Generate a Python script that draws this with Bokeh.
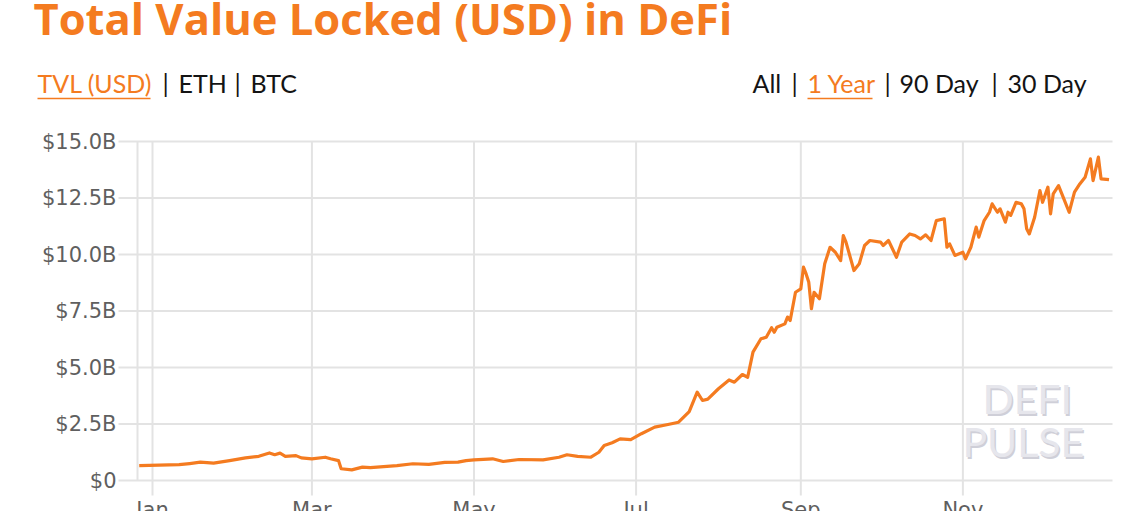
import pandas as pd
from bokeh.plotting import figure
from bokeh.models import Range1d, ColumnDataSource
from bokeh.core.properties import value
from bokeh.embed import file_html
from bokeh.resources import INLINE

# ---------------- data ----------------
title_text = "Total Value Locked (USD) in DeFi"
left_tabs = ["TVL (USD)", "|", "ETH", "|", "BTC"]
right_tabs = ["All", "|", "1 Year", "|", "90 Day", "|", "30 Day"]
active_tabs = ["TVL (USD)", "1 Year"]
y_ticks = [0, 2.5, 5, 7.5, 10, 12.5, 15]
y_tick_labels = ["$0", "$2.5B", "$5.0B", "$7.5B", "$10.0B", "$12.5B", "$15.0B"]
month_dates = ["2020-01-01", "2020-03-01", "2020-05-01", "2020-07-01", "2020-09-01", "2020-11-01"]
month_labels = ["Jan", "Mar", "May", "Jul", "Sep", "Nov"]
watermark = ["DEFI", "PULSE"]

tvl_dates = [
    "2019-12-27", "2020-01-11", "2020-01-15", "2020-01-19", "2020-01-24", "2020-01-30",
    "2020-02-05", "2020-02-10", "2020-02-14", "2020-02-16", "2020-02-18", "2020-02-20",
    "2020-02-24", "2020-02-26", "2020-03-01", "2020-03-06", "2020-03-08", "2020-03-11",
    "2020-03-12", "2020-03-16", "2020-03-20", "2020-03-23", "2020-04-02", "2020-04-08",
    "2020-04-14", "2020-04-20", "2020-04-25", "2020-04-28", "2020-05-01", "2020-05-08",
    "2020-05-12", "2020-05-18", "2020-05-27", "2020-06-02", "2020-06-05", "2020-06-09",
    "2020-06-14", "2020-06-17", "2020-06-19", "2020-06-22", "2020-06-25", "2020-06-29",
    "2020-07-03", "2020-07-08", "2020-07-13", "2020-07-17", "2020-07-21", "2020-07-24",
    "2020-07-26", "2020-07-28", "2020-08-01", "2020-08-05", "2020-08-07", "2020-08-10",
    "2020-08-12", "2020-08-14", "2020-08-17", "2020-08-19", "2020-08-21", "2020-08-22",
    "2020-08-23", "2020-08-26", "2020-08-27", "2020-08-28", "2020-08-30", "2020-09-01",
    "2020-09-02", "2020-09-03", "2020-09-04", "2020-09-05", "2020-09-06", "2020-09-08",
    "2020-09-10", "2020-09-12", "2020-09-14", "2020-09-16", "2020-09-17", "2020-09-18",
    "2020-09-21", "2020-09-23", "2020-09-25", "2020-09-27", "2020-10-01", "2020-10-02",
    "2020-10-04", "2020-10-07", "2020-10-09", "2020-10-12", "2020-10-14", "2020-10-16",
    "2020-10-18", "2020-10-20", "2020-10-22", "2020-10-25", "2020-10-26", "2020-10-27",
    "2020-10-29", "2020-11-01", "2020-11-02", "2020-11-04", "2020-11-06", "2020-11-07",
    "2020-11-09", "2020-11-11", "2020-11-12", "2020-11-14", "2020-11-15", "2020-11-17",
    "2020-11-18", "2020-11-19", "2020-11-21", "2020-11-23", "2020-11-24", "2020-11-25",
    "2020-11-26", "2020-11-28", "2020-11-30", "2020-12-01", "2020-12-03", "2020-12-04",
    "2020-12-05", "2020-12-07", "2020-12-09", "2020-12-11", "2020-12-13", "2020-12-15",
    "2020-12-17", "2020-12-19", "2020-12-20", "2020-12-22", "2020-12-23", "2020-12-26",
]
tvl_usd_billion = [
    0.66, 0.70, 0.75, 0.81, 0.77, 0.88,
    1.00, 1.07, 1.22, 1.14, 1.21, 1.07,
    1.10, 1.00, 0.96, 1.03, 0.96, 0.88,
    0.52, 0.47, 0.59, 0.57, 0.66, 0.74,
    0.71, 0.80, 0.81, 0.88, 0.91, 0.96,
    0.84, 0.93, 0.91, 1.03, 1.14, 1.07,
    1.03, 1.25, 1.55, 1.67, 1.84, 1.81,
    2.07, 2.36, 2.48, 2.58, 3.05, 3.91,
    3.54, 3.60, 4.06, 4.45, 4.35, 4.69,
    4.57, 5.68, 6.27, 6.34, 6.76, 6.56,
    6.78, 6.93, 7.23, 7.08, 8.33, 8.48,
    9.44, 9.14, 8.77, 7.60, 8.33, 8.04,
    9.59, 10.32, 10.10, 9.73, 10.84, 10.55,
    9.29, 9.59, 10.40, 10.62, 10.55, 10.40,
    10.62, 9.88, 10.55, 10.91, 10.84, 10.69,
    10.87, 10.62, 11.50, 11.58, 10.32, 10.47,
    9.96, 10.10, 9.81, 10.32, 11.21, 10.77,
    11.50, 11.87, 12.24, 11.87, 12.02, 11.43,
    11.87, 11.73, 12.31, 12.24, 12.02, 11.14,
    10.91, 11.65, 12.83, 12.31, 12.98, 11.80,
    12.68, 13.05, 12.46, 11.87, 12.76, 13.12,
    13.42, 14.23, 13.27, 14.31, 13.35, 13.31,
]

# ---------------- layout / style ----------------
ORANGE = "#f47b20"
GRID = "#e3e3e3"
AXIS_TEXT = "#5f5f5f"
TAB_TEXT = "#141414"
W, H = 1136, 511
D0 = pd.Timestamp("2020-01-01")
JAN1_X, PX_PER_DAY = 152, 2.657      # horizontal placement of the time scale
ZERO_Y, PX_PER_B = 480, 22.6         # vertical placement of the value scale
AXIS_X, PLOT_RIGHT, TICK_LEFT = 137, 1112, 118


def date_at(px):
    return D0 + pd.Timedelta(days=(px - JAN1_X) / PX_PER_DAY)


def val_at(py):
    return (ZERO_Y - py) / PX_PER_B


p = figure(width=W, height=H, x_axis_location=None, y_axis_location=None,
           x_range=Range1d(date_at(0), date_at(W)), y_range=Range1d(val_at(H), val_at(0)),
           output_backend="svg", toolbar_location=None, min_border=0)
p.outline_line_color = None
p.background_fill_color = "white"
p.border_fill_color = "white"
p.xgrid.visible = False
p.ygrid.visible = False
p.grid.grid_line_color = None
# page-pixel ranges for the header texts and axis decorations
p.extra_x_ranges = {"px": Range1d(0, W)}
p.extra_y_ranges = {"px": Range1d(H, 0)}

# ---- value axis: grid lines, ticks, axis line, labels
n_y = len(y_ticks)
p.segment(x0=[TICK_LEFT] * n_y, x1=[PLOT_RIGHT] * n_y, y0=y_ticks, y1=y_ticks,
          x_range_name="px", line_color=GRID, line_width=2)
p.segment(x0=[AXIS_X], x1=[AXIS_X], y0=[y_ticks[0]], y1=[y_ticks[-1]],
          x_range_name="px", line_color=GRID, line_width=2)
p.text(x=[TICK_LEFT - 2] * n_y, y=y_ticks, text=y_tick_labels, x_range_name="px",
       text_align="right", text_baseline="middle", text_font=value("DejaVu Sans"),
       text_font_size="21px", text_color=AXIS_TEXT)

# ---- time axis: month grid lines and labels (cut off at the bottom edge)
month_dt = pd.to_datetime(month_dates)
n_m = len(month_dt)
msrc = ColumnDataSource(dict(x=month_dt, y0=[val_at(495)] * n_m, y1=[y_ticks[-1]] * n_m,
                             yl=[val_at(497)] * n_m, t=month_labels))
p.segment(x0="x", x1="x", y0="y0", y1="y1", source=msrc, line_color=GRID, line_width=2)
p.text(x="x", y="yl", text="t", source=msrc, text_align="center", text_baseline="top",
       text_font=value("DejaVu Sans"), text_font_size="21px", text_color=AXIS_TEXT)

# ---- watermark
p.text(x=[983.5, 963.5], y=[399.5, 442.5], text=watermark, x_range_name="px", y_range_name="px",
       text_font=value("Lato"), text_font_size="41px", text_color="#cfcfd8",
       text_baseline="alphabetic")
p.text(x=[982, 962], y=[398, 441], text=watermark, x_range_name="px", y_range_name="px",
       text_font=value("Lato"), text_font_size="41px", text_color="#e6e6ec",
       text_baseline="alphabetic")

# ---- TVL line
p.line(pd.to_datetime(tvl_dates), tvl_usd_billion, line_color=ORANGE, line_width=3.2,
       line_join="round")

# ---- header: title and tab rows
p.text(x=[33], y=[18], text=[title_text], x_range_name="px", y_range_name="px",
       text_font=value("Open Sans"), text_font_style="bold", text_font_size="43.5px",
       text_color=ORANGE, text_baseline="alphabetic")

tab_x = [37, 162, 178, 234, 250] + [752, 791, 807, 884, 899, 991, 1007]
tab_text = left_tabs + right_tabs
tab_color = [ORANGE if t in active_tabs else TAB_TEXT for t in tab_text]
tsrc = ColumnDataSource(dict(x=tab_x, y=[82] * len(tab_x), t=tab_text, c=tab_color))
p.text(x="x", y="y", text="t", source=tsrc, x_range_name="px", y_range_name="px",
       text_color="c", text_font=value("Lato"), text_font_size="25px",
       text_baseline="alphabetic", text_align="left")

usrc = ColumnDataSource(dict(x0=[37, 807], x1=[150, 872], y=[98, 98]))
p.segment(x0="x0", x1="x1", y0="y", y1="y", source=usrc, x_range_name="px", y_range_name="px",
          line_color=ORANGE, line_width=1.5)

open("out.html", "w").write(file_html(p, INLINE))
